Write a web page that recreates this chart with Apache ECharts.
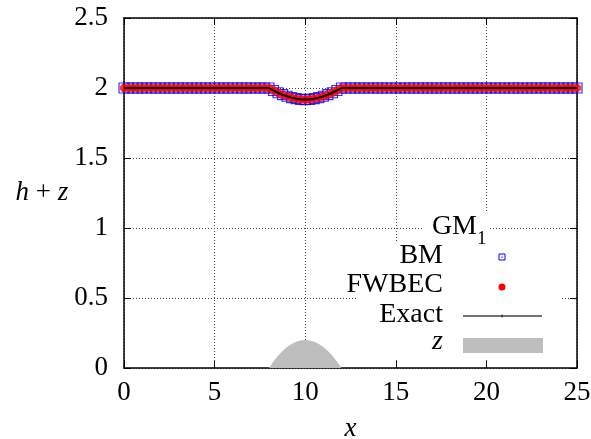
<!DOCTYPE html>
<html><head><meta charset="utf-8">
<script src="https://cdn.jsdelivr.net/npm/echarts@6/dist/echarts.min.js"></script>
<style>html,body{margin:0;padding:0;background:#fff}#c{width:591px;height:439px}</style>
</head><body><div id="c"></div>
<script>
// x positions of the computed / exact solution
const xs = [0,0.25,0.5,0.75,1,1.25,1.5,1.75,2,2.25,2.5,2.75,3,3.25,3.5,3.75,4,4.25,4.5,4.75,
5,5.25,5.5,5.75,6,6.25,6.5,6.75,7,7.25,7.5,7.75,8,8.25,8.5,8.75,9,9.25,9.5,9.75,
10,10.25,10.5,10.75,11,11.25,11.5,11.75,12,12.25,12.5,12.75,13,13.25,13.5,13.75,14,14.25,14.5,14.75,
15,15.25,15.5,15.75,16,16.25,16.5,16.75,17,17.25,17.5,17.75,18,18.25,18.5,18.75,19,19.25,19.5,19.75,
20,20.25,20.5,20.75,21,21.25,21.5,21.75,22,22.25,22.5,22.75,23,23.25,23.5,23.75,24,24.25,24.5,24.75,25];
// h+z (free surface)
const bm = [2,2,2,2,2,2,2,2,2,2,2,2,2,2,2,2,2,2,2,2,
2,2,2,2,2,2,2,2,2,2,2,2,2,1.982,1.966,1.952,1.941,1.931,1.924,1.919,
1.917,1.919,1.924,1.931,1.941,1.952,1.966,1.982,2,2,2,2,2,2,2,2,2,2,2,2,
2,2,2,2,2,2,2,2,2,2,2,2,2,2,2,2,2,2,2,2,
2,2,2,2,2,2,2,2,2,2,2,2,2,2,2,2,2,2,2,2,2];
const fwbec = [2,2,2,2,2,2,2,2,2,2,2,2,2,2,2,2,2,2,2,2,
2,2,2,2,2,2,2,2,2,2,2,2,2,1.982,1.966,1.952,1.941,1.931,1.924,1.919,
1.917,1.919,1.924,1.931,1.941,1.952,1.966,1.982,2,2,2,2,2,2,2,2,2,2,2,2,
2,2,2,2,2,2,2,2,2,2,2,2,2,2,2,2,2,2,2,2,
2,2,2,2,2,2,2,2,2,2,2,2,2,2,2,2,2,2,2,2,2];
const exact = [2,2,2,2,2,2,2,2,2,2,2,2,2,2,2,2,2,2,2,2,
2,2,2,2,2,2,2,2,2,2,2,2,2,1.982,1.966,1.952,1.941,1.931,1.924,1.919,
1.917,1.919,1.924,1.931,1.941,1.952,1.966,1.982,2,2,2,2,2,2,2,2,2,2,2,2,
2,2,2,2,2,2,2,2,2,2,2,2,2,2,2,2,2,2,2,2,
2,2,2,2,2,2,2,2,2,2,2,2,2,2,2,2,2,2,2,2,2];
// bottom topography z
const zx = [8,8.25,8.5,8.75,9,9.25,9.5,9.75,10,10.25,10.5,10.75,11,11.25,11.5,11.75,12];
const zy = [0,0.047,0.088,0.122,0.15,0.172,0.188,0.197,0.2,0.197,0.188,0.172,0.15,0.122,0.088,0.047,0];
const xTicks = [0,5,10,15,20,25];
const yTicks = [0,0.5,1,1.5,2,2.5];
const legendTitle = 'GM';
const legendNames = ['BM','FWBEC','Exact','z'];

const pair = (a,b)=>a.map((v,i)=>[v,b[i]]);
const FONT = 'Liberation Serif';
const chart = echarts.init(document.getElementById('c'));
const fmtY = v => (yTicks.indexOf(v) >= 0 ? String(v) : '');
const grid = {left:124, top:18, width:453, height:350, containLabel:false, outerBoundsMode:'none'};
chart.setOption({
  backgroundColor:'#fff',
  animation:false,
  grid: grid,
  xAxis: [{
    type:'value', min:0, max:25, interval:5,
    axisLine:{show:true, onZero:false, lineStyle:{color:'#000', width:1.5}},
    axisTick:{show:true, inside:true, length:7, lineStyle:{color:'#000'}},
    axisLabel:{color:'#000', fontFamily:FONT, fontSize:27, margin:11},
    splitLine:{show:true, lineStyle:{color:'#444', type:[1,2], width:1}},
    name:'x', nameLocation:'middle', nameGap:47,
    nameTextStyle:{color:'#000', fontFamily:FONT, fontSize:27, fontStyle:'italic'}
  },{
    type:'value', min:0, max:25, interval:5, position:'top',
    axisLine:{show:true, onZero:false, lineStyle:{color:'#000', width:1.5}},
    axisTick:{show:true, inside:true, length:7, lineStyle:{color:'#000'}},
    axisLabel:{show:false}, splitLine:{show:false}
  }],
  yAxis: [{
    type:'value', min:0, max:2.5, interval:0.5,
    axisLine:{show:true, onZero:false, lineStyle:{color:'#000', width:1.5}},
    axisTick:{show:true, inside:true, length:7, lineStyle:{color:'#000'}},
    axisLabel:{color:'#000', fontFamily:FONT, fontSize:27, margin:16, formatter:fmtY},
    splitLine:{show:true, lineStyle:{color:'#444', type:[1,2], width:1}},
    name:'{i|h} + {i|z}', nameLocation:'middle', nameGap:54, nameRotate:0,
    nameTextStyle:{color:'#000', fontFamily:FONT, fontSize:27,
      rich:{i:{fontStyle:'italic', fontFamily:FONT, fontSize:27, color:'#000'}}}
  },{
    type:'value', min:0, max:2.5, interval:0.5, position:'right',
    axisLine:{show:true, onZero:false, lineStyle:{color:'#000', width:1.5}},
    axisTick:{show:true, inside:true, length:7, lineStyle:{color:'#000'}},
    axisLabel:{show:false}, splitLine:{show:false}
  }],
  series: [
    {name:'z', type:'line', data:pair(zx,zy), showSymbol:false, symbol:'none',
     lineStyle:{width:0}, areaStyle:{color:'#bebebe', opacity:1}, z:2},
    {name:'BM', type:'scatter', data:pair(xs,bm), symbol:'rect', symbolSize:10,
     itemStyle:{color:'rgba(0,0,0,0)', borderColor:'#0000ff', borderWidth:1.2}, z:3},
    {name:'FWBEC', type:'scatter', data:pair(xs,fwbec), symbol:'circle', symbolSize:8.5,
     itemStyle:{color:'#ff0000'}, z:4},
    {name:'Exact', type:'line', data:pair(xs,exact), showSymbol:false, symbol:'none',
     lineStyle:{color:'#000', width:2}, z:5}
  ],
  graphic: [
    {type:'rect', shape:{x:356, y:241, width:204, height:117}, style:{fill:'#fff'}, z:50},
    {type:'rect', shape:{x:424, y:213, width:64, height:28}, style:{fill:'#fff'}, z:50},
    {type:'text', z:60, style:{text:legendTitle, x:477, y:227, textAlign:'right', textVerticalAlign:'middle', font:'28px "Liberation Serif"', fill:'#000'}},
    {type:'text', z:60, style:{text:'1', x:477, y:239, textAlign:'left', textVerticalAlign:'middle', font:'19px "Liberation Serif"', fill:'#000'}},
    {type:'text', z:60, style:{text:legendNames[0], x:443, y:256, textAlign:'right', textVerticalAlign:'middle', font:'28px "Liberation Serif"', fill:'#000'}},
    {type:'text', z:60, style:{text:legendNames[1], x:443, y:285, textAlign:'right', textVerticalAlign:'middle', font:'28px "Liberation Serif"', fill:'#000'}},
    {type:'text', z:60, style:{text:legendNames[2], x:443, y:315, textAlign:'right', textVerticalAlign:'middle', font:'28px "Liberation Serif"', fill:'#000'}},
    {type:'text', z:60, style:{text:legendNames[3], x:443, y:342, textAlign:'right', textVerticalAlign:'middle', font:'italic 28px "Liberation Serif"', fill:'#000'}},
    {type:'rect', z:60, shape:{x:499, y:254, width:6, height:6}, style:{fill:'none', stroke:'#0000ff', lineWidth:1}},
    {type:'rect', z:60, shape:{x:501.5, y:256.5, width:1.2, height:1.2}, style:{fill:'#0000ff'}},
    {type:'circle', z:60, shape:{cx:502, cy:287, r:3.5}, style:{fill:'#ff0000'}},
    {type:'line', z:60, shape:{x1:463, y1:316, x2:542, y2:316}, style:{stroke:'#444', lineWidth:1.3}},
    {type:'line', z:60, shape:{x1:502, y1:314.5, x2:502, y2:317.5}, style:{stroke:'#222', lineWidth:1}},
    {type:'rect', z:60, shape:{x:463, y:338, width:80, height:15}, style:{fill:'#bebebe'}}
  ]
});
</script></body></html>
